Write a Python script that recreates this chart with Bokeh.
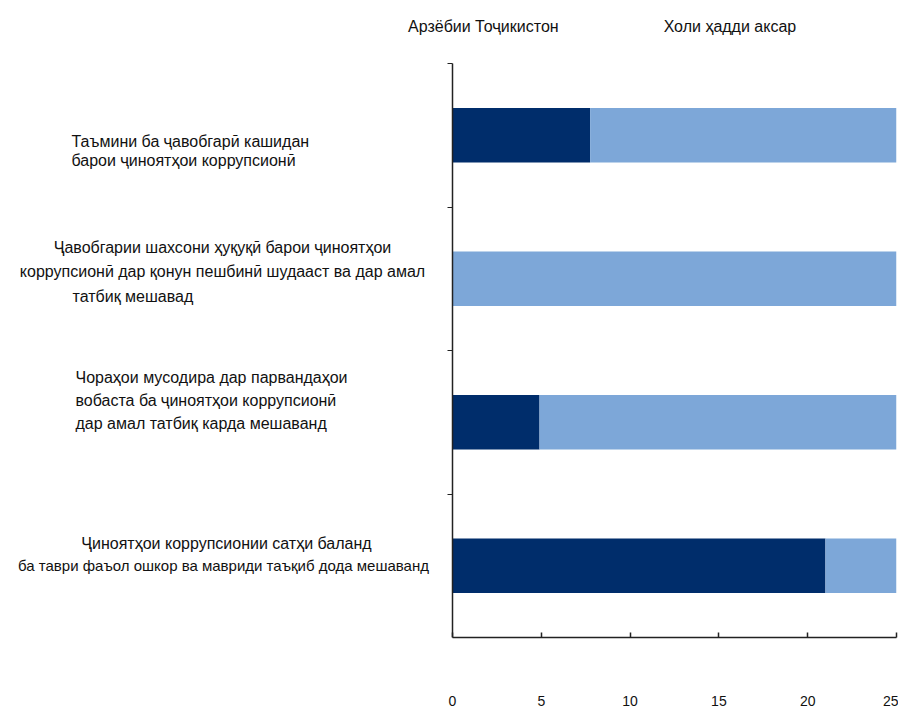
from bokeh.plotting import figure
from bokeh.models import (ColumnDataSource, Range1d, Label, Legend, LegendItem,
                          FixedTicker)
from bokeh.embed import file_html
from bokeh.resources import INLINE

# ---- data ----
category_lines = [
    ["Таъмини ба ҷавобгарӣ кашидан", "барои ҷиноятҳои коррупсионӣ"],
    ["Ҷавобгарии шахсони ҳуқуқӣ барои ҷиноятҳои",
     "коррупсионӣ дар қонун пешбинӣ шудааст ва дар амал",
     "татбиқ мешавад"],
    ["Чораҳои  мусодира дар парвандаҳои",
     "вобаста ба ҷиноятҳои коррупсионӣ",
     "дар амал татбиқ карда мешаванд"],
    ["Ҷиноятҳои коррупсионии сатҳи баланд",
     "ба таври фаъол ошкор ва мавриди таъқиб дода мешаванд"],
]
tajikistan_score = [7.75, 0.0, 4.9, 21.0]
max_score = [25, 25, 25, 25]
series_names = ["Арзёбии Тоҷикистон", "Холи ҳадди аксар"]
x_ticks = [0, 5, 10, 15, 20, 25]

# ---- layout (positions only) ----
n = len(category_lines)
y_pos = [n - i - 0.5 for i in range(n)]          # top category first
gap = [m - s for m, s in zip(max_score, tajikistan_score)]
src = ColumnDataSource(dict(y=y_pos, score=tajikistan_score, gap=gap))

W, H = 898, 712
LEFT, RIGHT = 10, 2            # borders
X0_PX, FRAME_BOTTOM = 452, 637  # pixel of x=0 and of the x axis
XS = (W - RIGHT - X0_PX) / max(max_score)       # px per unit
YS = (FRAME_BOTTOM - 63) / n                    # px per category
x_start = -(X0_PX - LEFT) / XS
y_end = n + 63 / YS


def dx(px):
    return (px - X0_PX) / XS


def dy(py):
    return (FRAME_BOTTOM - py) / YS


DARK = "#002D6B"
LIGHT = "#7DA7D8"
FONT = "Liberation Sans"
AX = "#222222"

p = figure(width=W, height=H, output_backend="svg", toolbar_location=None,
           x_range=Range1d(x_start, max(max_score)), y_range=Range1d(0, y_end),
           min_border_left=LEFT, min_border_right=RIGHT, min_border_top=0,
           min_border_bottom=H - FRAME_BOTTOM)
p.outline_line_color = None
p.xgrid.visible = False
p.ygrid.visible = False

rs = p.hbar_stack(["score", "gap"], y="y", height=0.38, color=[DARK, LIGHT],
                  line_color=None, source=src)

# x axis
xa = p.xaxis[0]
xa.bounds = (0, max(max_score))
xa.ticker = FixedTicker(ticks=x_ticks)
xa.major_tick_in = 5
xa.major_tick_out = 0
xa.minor_tick_line_color = None
xa.axis_line_color = AX
xa.major_tick_line_color = AX
xa.axis_line_width = 1.5
xa.major_tick_line_width = 1.5
xa.major_label_standoff = 58
xa.major_label_text_font = FONT
xa.major_label_text_font_size = "14px"
xa.major_label_text_color = "#111111"

# y axis at x = 0 (category boundaries)
ya = p.yaxis[0]
ya.fixed_location = 0
ya.bounds = (0, n)
ya.ticker = FixedTicker(ticks=[1, 2, 3, 4])
ya.major_label_overrides = {1: "", 2: "", 3: "", 4: ""}
ya.major_tick_in = 0
ya.major_tick_out = 5
ya.minor_tick_line_color = None
ya.axis_line_color = AX
ya.major_tick_line_color = AX
ya.axis_line_width = 1.5
ya.major_label_standoff = 0

# category labels: per line (pixel x, align, pixel y, font size)
line_layout = [
    [(71, "left", 141, 16), (71, "left", 160, 16)],
    [(222, "center", 247, 16), (222, "center", 271, 16), (72, "left", 296, 16)],
    [(75, "left", 377, 16), (75, "left", 400, 16), (75, "left", 423, 16)],
    [(226, "center", 543, 16), (223, "center", 565, 15)],
]
for lines, lay in zip(category_lines, line_layout):
    for txt, (lx, al, ly, fs) in zip(lines, lay):
        p.add_layout(Label(x=dx(lx), y=dy(ly), text=txt, text_align=al,
                           text_baseline="middle", text_font=FONT,
                           text_font_size=f"{fs}px", text_color="#111111"))

legend = Legend(items=[LegendItem(label=series_names[0], renderers=[rs[0]]),
                       LegendItem(label=series_names[1], renderers=[rs[1]])],
                orientation="horizontal", location=(408 - LEFT, FRAME_BOTTOM - 37),
                glyph_width=0, glyph_height=20, label_standoff=0,
                spacing=105, padding=0, margin=0,
                border_line_color=None, background_fill_alpha=0,
                label_text_font=FONT, label_text_font_size="16px",
                label_text_color="#111111")
p.add_layout(legend, "center")

open("out.html", "w").write(file_html(p, INLINE))
